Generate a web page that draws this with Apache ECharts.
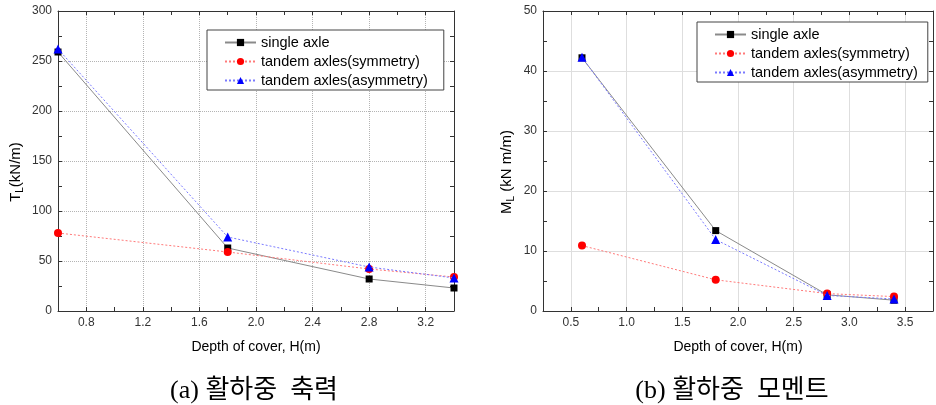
<!DOCTYPE html>
<html>
<head>
<meta charset="utf-8">
<script src="https://cdn.jsdelivr.net/npm/echarts@6/dist/echarts.min.js"></script>
<style>
  html, body { margin: 0; padding: 0; background: #fff; }
  #chart { width: 936px; height: 405px; }
</style>
</head>
<body>
<div id="chart"></div>
<script>
// depth of cover H (m)
const depth = [0.6, 1.8, 2.8, 3.4]
const seriesNames = ['single axle', 'tandem axles(symmetry)', 'tandem axles(asymmetry)']

// (a) axial force T_L (kN/m)
const tlSingle = [259, 63, 32, 23]
const tlSym = [78, 59, 42, 34]
const tlAsym = [262, 74, 44, 33]

// (b) moment M_L (kN m/m)
const mlSingle = [42.2, 13.4, 2.7, 1.8]
const mlSym = [10.9, 5.2, 2.9, 2.4]
const mlAsym = [42.3, 11.9, 2.6, 2.0]

const xTitle = 'Depth of cover, H(m)'
const captionA = '(a) 활하중  축력'
const captionB = '(b) 활하중  모멘트'

const FONT = "'Liberation Sans', Arial, sans-serif"
const AXIS_COLOR = '#333'

const styles = [
  { line: '#8a8a8a', type: 'solid', symbol: 'rect', size: 7, color: '#000' },
  { line: '#ff7a7a', type: [2, 2], symbol: 'circle', size: 8, color: '#ff0000' },
  { line: '#7a7aff', type: [2, 2], symbol: 'triangle', size: 9, color: '#0000ff' }
]

function pairs(values) {
  return depth.map((d, i) => [d, values[i]])
}

function makeSeries(values, idx, gridIdx) {
  const s = styles[idx]
  return {
    name: seriesNames[idx],
    type: 'line',
    xAxisIndex: gridIdx * 2,
    yAxisIndex: gridIdx * 2,
    data: pairs(values),
    symbol: s.symbol,
    symbolSize: s.size,
    itemStyle: { color: s.color },
    lineStyle: { color: s.line, width: 1, type: s.type },
    clip: false,
    z: 3 + idx
  }
}

function xAxes(gridIdx, min, max, step, labelStep, gridColor, gridType) {
  const base = {
    gridIndex: gridIdx,
    type: 'value',
    min: min,
    max: max,
    interval: step,
    axisLine: { show: true, onZero: false, lineStyle: { color: AXIS_COLOR, width: 1 } },
    axisTick: { show: true, inside: true, length: 4, lineStyle: { color: AXIS_COLOR } }
  }
  return [
    Object.assign({}, base, {
      position: 'bottom',
      name: xTitle,
      nameLocation: 'middle',
      nameGap: 29,
      nameTextStyle: { fontFamily: FONT, fontSize: 14, color: '#000' },
      axisLabel: {
        fontFamily: FONT, fontSize: 12, color: '#333', margin: 6,
        formatter: v => (Math.round(v * 100) % Math.round(labelStep * 100) === 0 ? v.toFixed(1) : '')
      },
      splitLine: {
        show: true,
        lineStyle: { color: ['rgba(0,0,0,0)', gridColor], type: gridType, width: 1 }
      }
    }),
    Object.assign({}, base, {
      position: 'top',
      axisLabel: { show: false },
      splitLine: { show: false }
    })
  ]
}

function yAxes(gridIdx, max, step, nameRich, gap, gridColor, gridType) {
  const base = {
    gridIndex: gridIdx,
    type: 'value',
    min: 0,
    max: max,
    interval: step,
    axisLine: { show: true, onZero: false, lineStyle: { color: AXIS_COLOR, width: 1 } },
    axisTick: { show: true, inside: true, length: 4, lineStyle: { color: AXIS_COLOR } },
    minorTick: { show: true, splitNumber: 2, length: 4, lineStyle: { color: AXIS_COLOR } }
  }
  return [
    Object.assign({}, base, {
      position: 'left',
      name: nameRich,
      nameLocation: 'middle',
      nameGap: gap,
      nameTextStyle: {
        fontFamily: FONT, fontSize: 15, color: '#000', padding: [0, 22, 0, 0],
        rich: { sub: { fontFamily: FONT, fontSize: 10, color: '#000', verticalAlign: 'bottom', padding: [8, 0, 0, 0] } }
      },
      axisLabel: { fontFamily: FONT, fontSize: 12, color: '#333', margin: 6 },
      splitLine: { show: true, lineStyle: { color: gridColor, type: gridType, width: 1 } }
    }),
    Object.assign({}, base, {
      position: 'right',
      axisLabel: { show: false },
      splitLine: { show: false }
    })
  ]
}

function legend(left, top, padRight) {
  return {
    left: left,
    top: top,
    orient: 'vertical',
    data: seriesNames,
    selectedMode: false,
    backgroundColor: '#fff',
    borderColor: '#444',
    borderWidth: 1,
    borderRadius: 0,
    padding: [5, padRight, 2, 17],
    itemWidth: 31,
    itemHeight: 9,
    itemGap: 4,
    textStyle: { fontFamily: FONT, fontSize: 14.5, color: '#000' }
  }
}

const chart = echarts.init(document.getElementById('chart'), null, { renderer: 'canvas' })

chart.setOption({
  animation: false,
  backgroundColor: '#fff',
  grid: [
    { left: 58, top: 11, width: 396, height: 300 },
    { left: 543, top: 11, right: -4, height: 300 }
  ],
  xAxis: [].concat(
    xAxes(0, 0.6, 3.4, 0.2, 0.4, '#b4b4b4', 'dotted'),
    xAxes(1, 0.25, 3.75, 0.25, 0.5, '#dedede', 'solid')
  ),
  yAxis: [].concat(
    yAxes(0, 300, 50, 'T{sub|L}(kN/m)', 33, '#b4b4b4', 'dotted'),
    yAxes(1, 50, 10, 'M{sub|L} (kN m/m)', 27, '#dedede', 'solid')
  ),
  legend: [legend(207, 30, 16), legend(697, 22, 10)],
  series: [
    makeSeries(tlSingle, 0, 0),
    makeSeries(tlSym, 1, 0),
    makeSeries(tlAsym, 2, 0),
    makeSeries(mlSingle, 0, 1),
    makeSeries(mlSym, 1, 1),
    makeSeries(mlAsym, 2, 1)
  ],
  graphic: [
    {
      type: 'text', x: 254, y: 391,
      style: { text: captionA, fontSize: 26, fontFamily: "'Liberation Serif', 'Noto Sans CJK KR', serif", fill: '#000', align: 'center', verticalAlign: 'middle' }
    },
    {
      type: 'text', x: 732, y: 391,
      style: { text: captionB, fontSize: 26, fontFamily: "'Liberation Serif', 'Noto Sans CJK KR', serif", fill: '#000', align: 'center', verticalAlign: 'middle' }
    }
  ]
})
</script>
</body>
</html>
